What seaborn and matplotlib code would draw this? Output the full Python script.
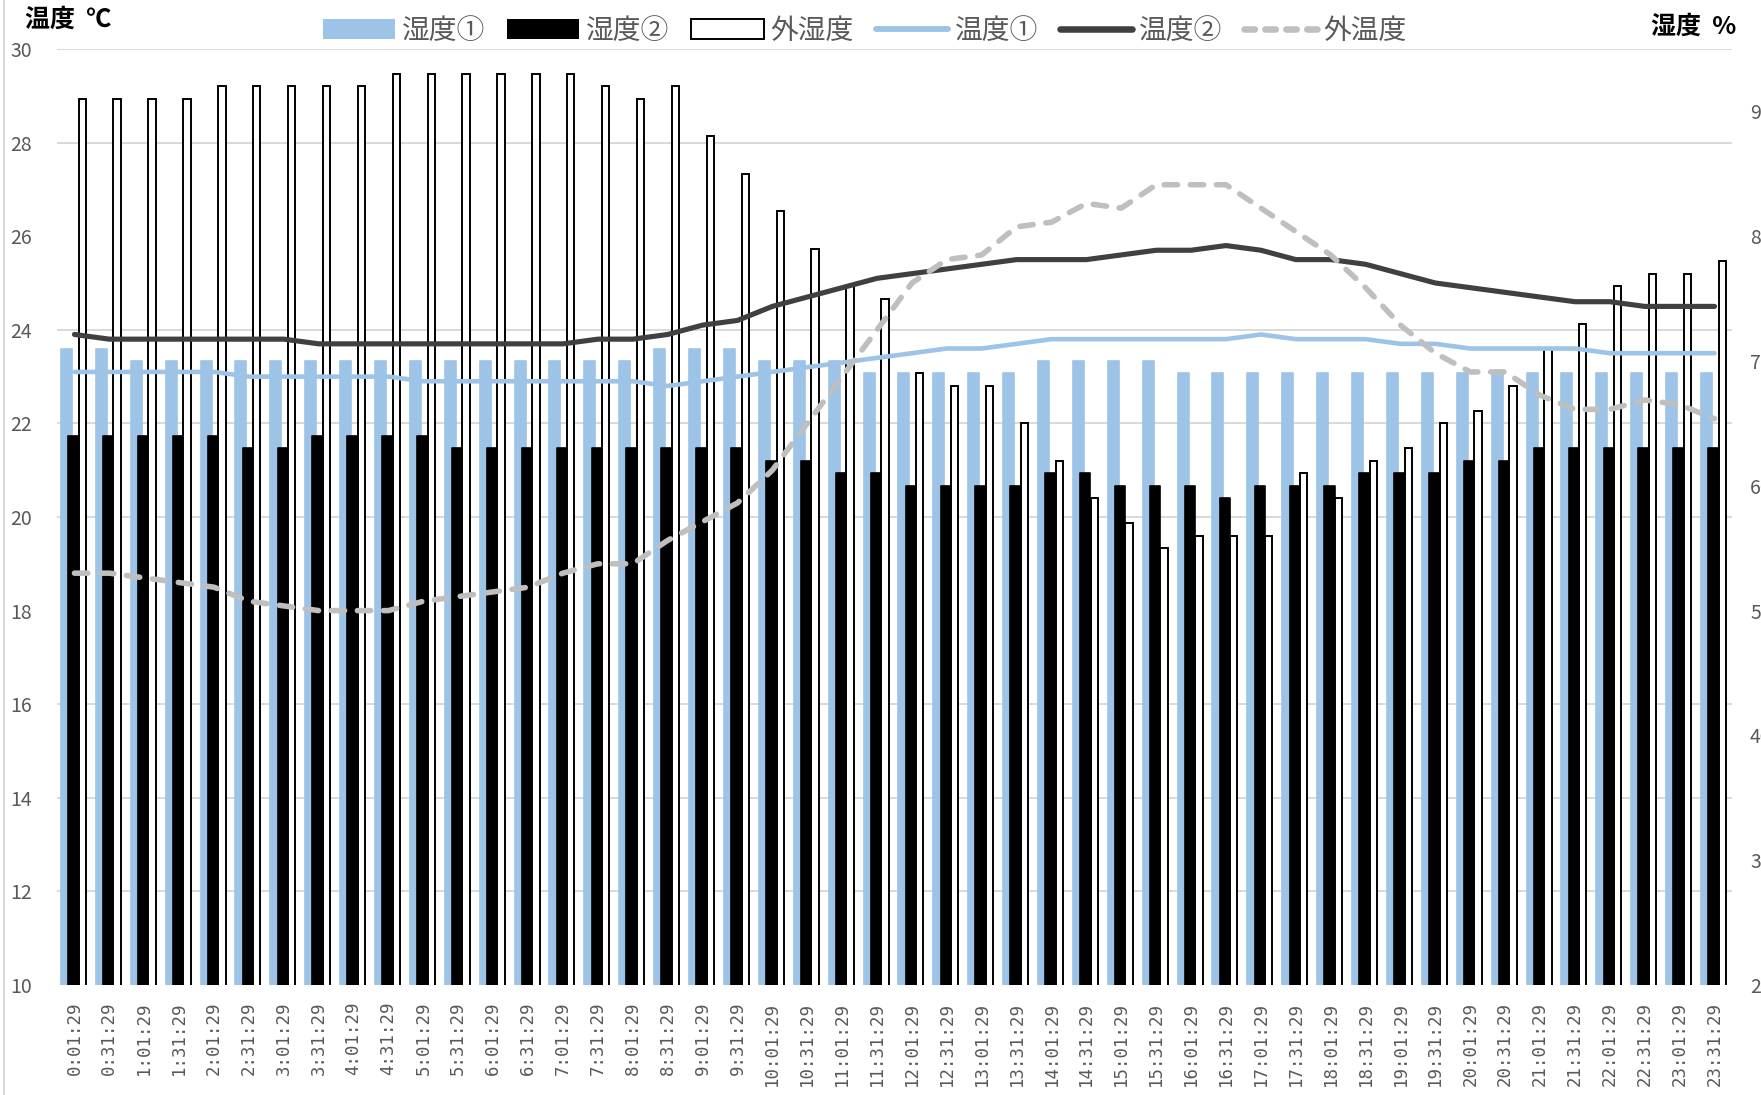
import numpy as np
import pandas as pd
import matplotlib
matplotlib.use("Agg")
import matplotlib.pyplot as plt
from matplotlib.patches import Patch
from matplotlib.lines import Line2D
from matplotlib.ticker import FixedLocator
import seaborn as sns

# Half-hourly readings over one day
times = [f"{h}:{m:02d}:29" for h in range(24) for m in (1, 31)]

# Humidity (%) - bars, right axis
hum1 = [71, 71, 70, 70, 70, 70, 70, 70, 70, 70,
        70, 70, 70, 70, 70, 70, 70, 71, 71, 71,
        70, 70, 70, 69, 69, 69, 69, 69, 70, 70,
        70, 70, 69, 69, 69, 69, 69, 69, 69, 69,
        69, 69, 69, 69, 69, 69, 69, 69]
hum2 = [64, 64, 64, 64, 64, 63, 63, 64, 64, 64,
        64, 63, 63, 63, 63, 63, 63, 63, 63, 63,
        62, 62, 61, 61, 60, 60, 60, 60, 61, 61,
        60, 60, 60, 59, 60, 60, 60, 61, 61, 61,
        62, 62, 63, 63, 63, 63, 63, 63]
hum_out = [91, 91, 91, 91, 92, 92, 92, 92, 92, 93,
           93, 93, 93, 93, 93, 92, 91, 92, 88, 85,
           82, 79, 76, 75, 69, 68, 68, 65, 62, 59,
           57, 55, 56, 56, 56, 61, 59, 62, 63, 65,
           66, 68, 71, 73, 76, 77, 77, 78]

# Temperature (°C) - lines, left axis
temp1 = [23.1, 23.1, 23.1, 23.1, 23.1, 23.0, 23.0, 23.0, 23.0, 23.0,
         22.9, 22.9, 22.9, 22.9, 22.9, 22.9, 22.9, 22.8, 22.9, 23.0,
         23.1, 23.2, 23.3, 23.4, 23.5, 23.6, 23.6, 23.7, 23.8, 23.8,
         23.8, 23.8, 23.8, 23.8, 23.9, 23.8, 23.8, 23.8, 23.7, 23.7,
         23.6, 23.6, 23.6, 23.6, 23.5, 23.5, 23.5, 23.5]
temp2 = [23.9, 23.8, 23.8, 23.8, 23.8, 23.8, 23.8, 23.7, 23.7, 23.7,
         23.7, 23.7, 23.7, 23.7, 23.7, 23.8, 23.8, 23.9, 24.1, 24.2,
         24.5, 24.7, 24.9, 25.1, 25.2, 25.3, 25.4, 25.5, 25.5, 25.5,
         25.6, 25.7, 25.7, 25.8, 25.7, 25.5, 25.5, 25.4, 25.2, 25.0,
         24.9, 24.8, 24.7, 24.6, 24.6, 24.5, 24.5, 24.5]
temp_out = [18.8, 18.8, 18.7, 18.6, 18.5, 18.2, 18.1, 18.0, 18.0, 18.0,
            18.2, 18.3, 18.4, 18.5, 18.8, 19.0, 19.0, 19.5, 19.9, 20.3,
            21.0, 22.0, 23.0, 24.0, 25.0, 25.5, 25.6, 26.2, 26.3, 26.7,
            26.6, 27.1, 27.1, 27.1, 26.6, 26.1, 25.6, 24.9, 24.1, 23.5,
            23.1, 23.1, 22.6, 22.3, 22.3, 22.5, 22.4, 22.1]

series_names = ["湿度①", "湿度②", "外湿度", "温度①", "温度②", "外温度"]

BLUE = "#9DC3E6"
DARK = "#404040"
GREY_DASH = "#BFBFBF"
TEXT = "#595959"
GRID = "#D9D9D9"
DASH = (0, (2.4, 2.3))

df = pd.DataFrame({
    "pos": np.arange(len(times)),
    "time": times,
    "hum1": hum1, "hum2": hum2, "hum_out": hum_out,
    "temp1": temp1, "temp2": temp2, "temp_out": temp_out,
})

sns.set_theme(style="white")
plt.rcParams["font.family"] = ["Noto Sans CJK JP", "DejaVu Sans"]

fig = plt.figure(figsize=(17.61, 10.95), dpi=100)
W, H = 1761, 1095
left, right, top, bottom = 57, 1732, 49, 985
ax_h = fig.add_axes([left / W, 1 - bottom / H, (right - left) / W, (bottom - top) / H])
ax_t = ax_h.twinx()

# humidity bars (slightly overlapping clusters, softly rounded tops)
bar_specs = [
    ("hum1", -0.23, 0.315, dict(facecolor=BLUE, edgecolor=BLUE, linewidth=1.2), True),
    ("hum2", -0.035, 0.29, dict(facecolor="black", edgecolor="black", linewidth=1.2), True),
    ("hum_out", 0.224, 0.21, dict(facecolor="white", edgecolor="black", linewidth=1.4), False),
]
for col, off, wdt, style, rounded in bar_specs:
    n_before = len(ax_h.patches)
    sns.barplot(x=df["pos"] + off, y=df[col], native_scale=True, width=wdt,
                saturation=1, ax=ax_h, errorbar=None, **style)
    if rounded:
        for p in ax_h.patches[n_before:]:
            p.set_joinstyle("round")

# temperature lines
sns.lineplot(x=df["pos"], y=df["temp1"], ax=ax_t, color=BLUE, linewidth=3.3)
sns.lineplot(x=df["pos"], y=df["temp2"], ax=ax_t, color=DARK, linewidth=3.7)
sns.lineplot(x=df["pos"], y=df["temp_out"], ax=ax_t, color=GREY_DASH, linewidth=4.0,
             linestyle=DASH)
for ln in ax_t.lines:
    ln.set_solid_capstyle("round")
    ln.set_solid_joinstyle("round")
    ln.set_dash_capstyle("round")
    ln.set_dash_joinstyle("round")

# axes ranges
ax_h.set_xlim(-0.5, len(times) - 0.5)
ax_h.set_ylim(20, 95)
ax_t.set_ylim(10, 30)

# temperature scale on the left, humidity on the right
ax_t.yaxis.tick_left()
ax_h.yaxis.tick_right()
ax_t.set_yticks(np.arange(10, 31, 2))
ax_h.set_yticks(np.arange(20, 91, 10))
ax_t.tick_params(axis="y", length=0, pad=18, labelsize=14, labelcolor=TEXT)
ax_h.tick_params(axis="y", which="both", length=0, pad=13, labelsize=14, labelcolor=TEXT)

# gridlines follow the temperature steps, drawn behind the bars
ax_h.yaxis.set_minor_locator(FixedLocator(np.linspace(20, 95, 11)))
ax_h.grid(False)
ax_h.grid(which="minor", axis="y", color=GRID, linewidth=1.4)
ax_h.set_axisbelow(True)
ax_t.grid(False)

ax_h.set_xticks(df["pos"])
ax_h.set_xticklabels(times, rotation=90, fontsize=12.5, color=TEXT,
                     family=["DejaVu Sans Mono"])
ax_h.tick_params(axis="x", length=0, pad=12)
ax_t.tick_params(axis="x", length=0)

for a in (ax_h, ax_t):
    a.set_xlabel("")
    a.set_ylabel("")
    for s in a.spines.values():
        s.set_visible(False)

# axis titles
fig.text(25 / W, 1 - 20 / H, "温度  ℃", ha="left", va="center",
         fontsize=18, fontweight="bold", color="black")
fig.text(1651 / W, 1 - 27 / H, "湿度  %", ha="left", va="center",
         fontsize=18, fontweight="bold", color="black")

# chart border on the left
fig.add_artist(Line2D([4 / W, 4 / W], [0, 1], transform=fig.transFigure,
                      color=GRID, linewidth=1.5))

handles = [
    Patch(facecolor=BLUE, edgecolor="none"),
    Patch(facecolor="black", edgecolor="none"),
    Patch(facecolor="white", edgecolor="black", linewidth=1.4),
    Line2D([], [], color=BLUE, linewidth=4.2, solid_capstyle="round"),
    Line2D([], [], color=DARK, linewidth=4.7, solid_capstyle="round"),
    Line2D([], [], color=GREY_DASH, linewidth=4.7, linestyle=(0, (1.6, 1.6)),
           dash_capstyle="round"),
]
fig.legend(handles, series_names, loc="center", bbox_to_anchor=(0.491, 1 - 31 / H),
           ncol=6, frameon=False, fontsize=20, labelcolor=TEXT,
           handlelength=2.6, handleheight=0.73, handletextpad=0.24,
           columnspacing=0.8, borderaxespad=0, borderpad=0)

fig.savefig("out.png", dpi=100)
